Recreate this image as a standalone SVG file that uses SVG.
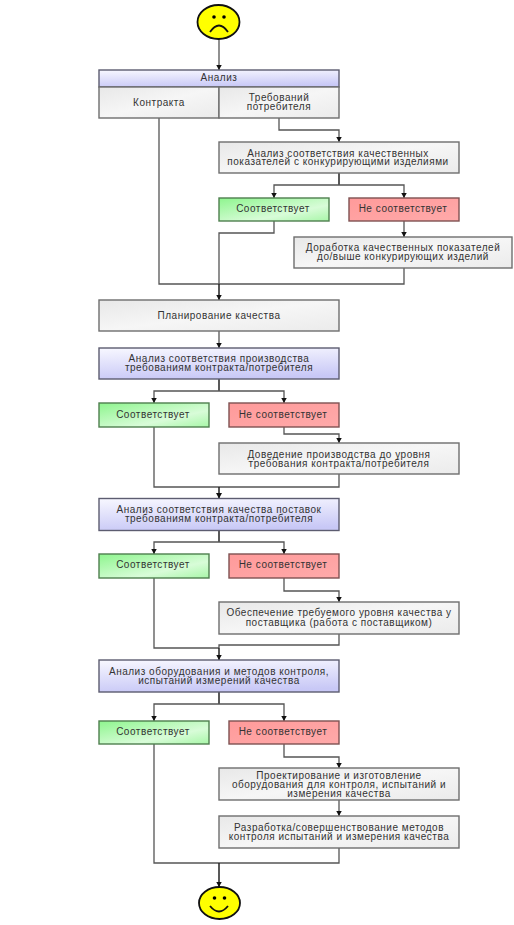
<svg xmlns="http://www.w3.org/2000/svg" width="514" height="925" viewBox="0 0 514 925">
<defs>
<linearGradient id="gGray" x1="0" y1="0" x2="1" y2="1"><stop offset="0" stop-color="#e8e8e8"/><stop offset="0.5" stop-color="#f6f6f6"/><stop offset="1" stop-color="#ebebeb"/></linearGradient>
<linearGradient id="gBlue" x1="0.2" y1="0" x2="0.4" y2="1"><stop offset="0" stop-color="#f6f6ff"/><stop offset="1" stop-color="#c8c8f6"/></linearGradient>
<linearGradient id="gGreen" x1="0" y1="0" x2="1" y2="1"><stop offset="0" stop-color="#8ef58e"/><stop offset="0.65" stop-color="#d8fcd8"/><stop offset="1" stop-color="#a8f6a8"/></linearGradient>
<linearGradient id="gRed" x1="0" y1="0" x2="1" y2="1"><stop offset="0" stop-color="#ff9a9a"/><stop offset="1" stop-color="#ffaaaa"/></linearGradient>
<marker id="ah" markerUnits="userSpaceOnUse" markerWidth="6" markerHeight="6" refX="5.500" refY="3" orient="auto"><path d="M0 0L5.500 3L0 6Z" fill="#111"/></marker>
</defs>
<style>
rect{stroke-width:1.400}
.gray{fill:url(#gGray);stroke:#6e6e6e}
.blue{fill:url(#gBlue);stroke:#5c5c70}
.green{fill:url(#gGreen);stroke:#4f7f4f}
.red{fill:url(#gRed);stroke:#7f5252}
text{font-family:"Liberation Sans",Arial,sans-serif;font-size:10px;letter-spacing:.52px;fill:#333;text-anchor:middle}
.c{fill:none;stroke:#555;stroke-width:1.300}
.a{marker-end:url(#ah)}
.t{fill:none;stroke:#222;stroke-width:1.500}
.face{fill:#ffff00;stroke:#111;stroke-width:1.800}
.f{fill:none;stroke:#111;stroke-width:1.800}
</style>
<g id="connectors">
<path class="c a" d="M219 39V70"/>
<path class="c a" d="M279 118V130H339V142"/>
<path class="t" d="M339 173V185"/>
<path class="c a" d="M339 185H274V198"/>
<path class="c a" d="M339 185H404V198"/>
<path class="c a" d="M404 221V237"/>
<path class="c" d="M159 118V284H404V268"/>
<path class="c" d="M274 221V233H219V284"/>
<path class="t a" d="M219 284V300"/>
<path class="c a" d="M219 331V348"/>
<path class="t" d="M219 379V391"/>
<path class="c a" d="M219 391H154V403"/>
<path class="c a" d="M219 391H284V403"/>
<path class="c a" d="M284 427V434H339V443"/>
<path class="c" d="M154 427V487H339V474"/>
<path class="t a" d="M219 487V498.500"/>
<path class="t" d="M219 531V542"/>
<path class="c a" d="M219 542H154V554"/>
<path class="c a" d="M219 542H284V554"/>
<path class="c a" d="M284 578V591H339V602"/>
<path class="c" d="M154 578V648H219"/>
<path class="c" d="M339 634V645H219V648"/>
<path class="t a" d="M219 648V660"/>
<path class="t" d="M219 692V704"/>
<path class="c a" d="M219 704H154V721"/>
<path class="c a" d="M219 704H284V721"/>
<path class="c a" d="M284 744V757H339V768"/>
<path class="c a" d="M339 800V816"/>
<path class="c" d="M154 744V863H339V848"/>
<path class="t a" d="M219 863V887"/>
</g>
<g id="sad"><ellipse class="face" cx="218.500" cy="22" rx="21" ry="17"/><circle cx="214" cy="17" r="1.800"/><circle cx="224" cy="17" r="1.800"/><path class="f" d="M210 32Q219 19 228 32"/></g>
<g id="analiz"><rect class="blue" x="99" y="70" width="240" height="17"/><text x="219" y="81">Анализ</text></g>
<g id="kontrakta"><rect class="gray" x="99" y="87" width="120" height="31"/><text x="159" y="105.500">Контракта</text></g>
<g id="treb"><rect class="gray" x="219" y="87" width="120" height="31"/><text x="279" y="100.500">Требований</text><text x="279" y="110">потребителя</text></g>
<g id="n1"><rect class="gray" x="219" y="142" width="240" height="31"/><text x="338" y="156.500">Анализ соответствия качественных</text><text x="338" y="165">показателей с конкурирующими изделиями</text></g>
<g id="n2"><rect class="green" x="219" y="198" width="110" height="23"/><text x="273" y="211.500">Соответствует</text></g>
<g id="n3"><rect class="red" x="349" y="198" width="110" height="23"/><text x="403" y="211.500">Не соответствует</text></g>
<g id="n4"><rect class="gray" x="294" y="237" width="218" height="31"/><text x="403" y="251">Доработка качественных показателей</text><text x="403" y="260">до/выше конкурирующих изделий</text></g>
<g id="n5"><rect class="gray" x="99" y="300" width="240" height="31"/><text x="219" y="318.500">Планирование качества</text></g>
<g id="n6"><rect class="blue" x="99" y="348" width="240" height="31"/><text x="219" y="361.500">Анализ соответствия производства</text><text x="219" y="370.500">требованиям контракта/потребителя</text></g>
<g id="n7"><rect class="green" x="99" y="403" width="110" height="24"/><text x="153" y="417.500">Соответствует</text></g>
<g id="n8"><rect class="red" x="229" y="403" width="110" height="24"/><text x="283" y="417.500">Не соответствует</text></g>
<g id="n9"><rect class="gray" x="219" y="443" width="240" height="31"/><text x="339" y="457.500">Доведение производства до уровня</text><text x="339" y="466.500">требования контракта/потребителя</text></g>
<g id="n10"><rect class="blue" x="99" y="498.500" width="240" height="32"/><text x="219" y="512.500">Анализ соответствия качества поставок</text><text x="219" y="522">требованиям контракта/потребителя</text></g>
<g id="n11"><rect class="green" x="99" y="554" width="110" height="24"/><text x="153" y="568">Соответствует</text></g>
<g id="n12"><rect class="red" x="229" y="554" width="110" height="24"/><text x="283" y="568">Не соответствует</text></g>
<g id="n13"><rect class="gray" x="219" y="602" width="240" height="32"/><text x="339" y="616">Обеспечение требуемого уровня качества у</text><text x="339" y="625.500">поставщика (работа с поставщиком)</text></g>
<g id="n14"><rect class="blue" x="99" y="660" width="240" height="32"/><text x="219" y="675">Анализ оборудования и методов контроля,</text><text x="219" y="684">испытаний измерений качества</text></g>
<g id="n15"><rect class="green" x="99" y="721" width="110" height="23"/><text x="153" y="735">Соответствует</text></g>
<g id="n16"><rect class="red" x="229" y="721" width="110" height="23"/><text x="283" y="735">Не соответствует</text></g>
<g id="n17"><rect class="gray" x="219" y="768" width="240" height="32"/><text x="339" y="778.500">Проектирование и изготовление</text><text x="339" y="788">оборудования для контроля, испытаний и</text><text x="339" y="797">измерения качества</text></g>
<g id="n18"><rect class="gray" x="219" y="816" width="240" height="32"/><text x="339" y="831">Разработка/совершенствование методов</text><text x="339" y="840">контроля испытаний и измерения качества</text></g>
<g id="happy"><ellipse class="face" cx="219.500" cy="903" rx="20.500" ry="16"/><circle cx="214.500" cy="898" r="1.800"/><circle cx="224.500" cy="898" r="1.800"/><path class="f" d="M210 906Q219 917 228 906"/></g>
</svg>
